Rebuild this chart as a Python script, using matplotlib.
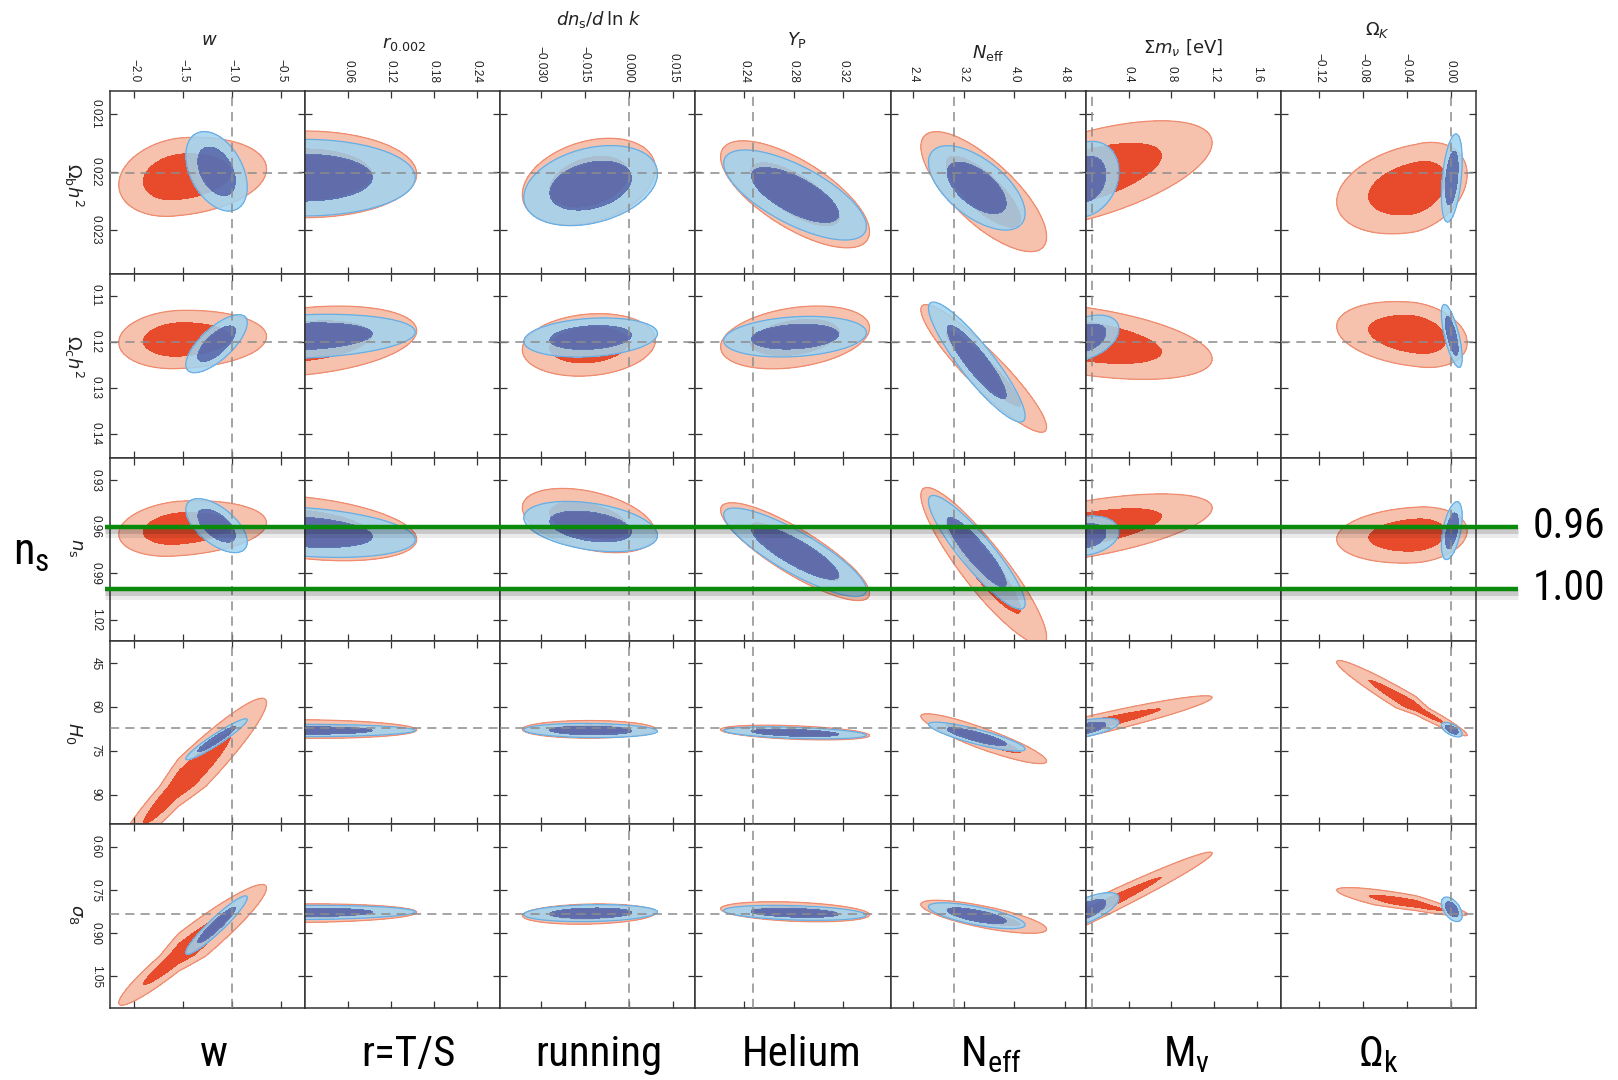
import numpy as np
import matplotlib
matplotlib.use('Agg')
import matplotlib.pyplot as plt
import matplotlib.patheffects as pe
from matplotlib import font_manager as fm
from matplotlib.lines import Line2D
from matplotlib.transforms import blended_transform_factory

W, H = 1618, 1080

# axis labels: extension parameters (columns) and base parameters (rows)
col_labels = [r'$w$', r'$r_{0.002}$', r'$dn_{\rm s}/d\,\ln\,k$', r'$Y_{\rm P}$',
              r'$N_{\rm eff}$', r'$\Sigma m_\nu$ [eV]', r'$\Omega_K$']
row_labels = [r'$\Omega_{\rm b}h^2$', r'$\Omega_{\rm c}h^2$', r'$n_{\rm s}$', r'$H_0$', r'$\sigma_8$']
bottom_names = ['w', 'r=T/S', 'running', 'Helium', r'$\mathregular{N_{eff}}$',
                r'$\mathregular{M_{ν}}$', r'$\mathregular{Ω_k}$']

x_lims = [(-2.25, -0.255), (0.0, 0.273), (-0.0437, 0.0226), (0.2007, 0.358),
          (2.04, 5.13), (0.0, 1.822), (-0.155, 0.0231)]
x_ticks = [[-2.0, -1.5, -1.0, -0.5], [0.06, 0.12, 0.18, 0.24], [-0.030, -0.015, 0.0, 0.015],
           [0.24, 0.28, 0.32], [2.4, 3.2, 4.0, 4.8], [0.4, 0.8, 1.2, 1.6], [-0.12, -0.08, -0.04, 0.0]]
x_fmt = ['{:.1f}', '{:.2f}', '{:.3f}', '{:.2f}', '{:.1f}', '{:.1f}', '{:.2f}']
x_fid = [-1.0, None, 0.0, 0.247, 3.046, 0.06, 0.0]

# y axes run downward (larger values at the bottom)
y_lims = [(0.02377, 0.02061), (0.1451, 0.1054), (1.0335, 0.9154), (100.0, 37.4), (1.158, 0.521)]
y_ticks = [[0.021, 0.022, 0.023], [0.11, 0.12, 0.13, 0.14], [0.93, 0.96, 0.99, 1.02],
           [45, 60, 75, 90], [0.60, 0.75, 0.90, 1.05]]
y_fmt = ['{:.3f}', '{:.2f}', '{:.2f}', '{:.0f}', '{:.2f}']
y_fid = [0.02203, 0.12, 0.96, 67.1, 0.833]

# 95% contour extents along each extension parameter (centre, min, max)
red_x_mid = [-1.55, 0.0, -0.0135, 0.281, 3.50, 0.0, -0.032]
red_x_min = [-2.16, -0.156, -0.0362, 0.221, 2.52, -1.18, -0.104]
red_x_max = [-0.65, 0.156, 0.0090, 0.341, 4.51, 1.18, 0.015]
blue_x_mid = [-1.16, 0.0, -0.013, 0.281, 3.40, 0.0, 0.001]
blue_x_min = [-1.475, -0.154, -0.0357, 0.2235, 2.64, -0.31, -0.0085]
blue_x_max = [-0.847, 0.154, 0.0097, 0.3385, 4.17, 0.31, 0.0105]

# 95% contour extents along each base parameter, one row per base parameter
red_y_mid = [
    [0.02209, 0.022047, 0.022172, 0.022391, 0.022345, 0.022072, 0.022284],
    [0.11952, 0.1199, 0.12069, 0.11907, 0.12579, 0.11991, 0.11844],
    [0.96109, 0.96071, 0.95595, 0.976, 0.9854, 0.96148, 0.96527],
    [87.0, 67.5, 67.6, 68.7, 70.8, 66.75, 60.3],
    [0.9786, 0.8302, 0.8333, 0.8253, 0.8427, 0.8333, 0.8008],
]
red_y_min = [
    [0.021409, 0.0213, 0.021425, 0.021469, 0.021311, 0.021124, 0.021496],
    [0.1132, 0.11229, 0.11393, 0.11227, 0.11197, 0.11167, 0.11131],
    [0.9432, 0.93958, 0.93527, 0.9445, 0.9347, 0.93881, 0.94719],
    [57.0, 64.33, 64.6, 66.2, 62.3, 56.15, 44.1],
    [0.7305, 0.7981, 0.7982, 0.7906, 0.7854, 0.6182, 0.7413],
]
red_y_max = [
    [0.022771, 0.022794, 0.022919, 0.023313, 0.023379, 0.02302, 0.023072],
    [0.12584, 0.12751, 0.12745, 0.12587, 0.13961, 0.12815, 0.12557],
    [0.97898, 0.98184, 0.97663, 1.0075, 1.0361, 0.98415, 0.98335],
    [109.0, 70.67, 70.6, 71.2, 79.3, 77.35, 69.8],
    [1.15, 0.8623, 0.8684, 0.86, 0.9, 1.0484, 0.8389],
]
red_rho = [
    [-0.2, 0.0, -0.3, 0.7, 0.75, -0.6, -0.3],
    [-0.1, -0.3, -0.15, -0.3, 0.92, 0.46, 0.25],
    [-0.2, 0.35, 0.4, 0.85, 0.9, -0.6, -0.15],
    [-0.95, 0.1, 0.0, 0.4, 0.9, -0.947, 0.97],
    [-0.95, -0.1, -0.15, 0.3, 0.75, -0.983, 0.85],
]
blue_y_mid = [
    [0.021995, 0.022104, 0.022241, 0.022403, 0.02228, 0.022133, 0.02211],
    [0.12043, 0.11885, 0.11909, 0.11891, 0.1244, 0.11924, 0.11874],
    [0.95923, 0.96334, 0.95981, 0.9764, 0.9764, 0.96578, 0.96245],
    [71.0, 68.0, 68.0, 68.8, 70.1, 67.3, 67.7],
    [0.8715, 0.8278, 0.8302, 0.829, 0.8392, 0.8212, 0.8167],
]
blue_y_min = [
    [0.02131, 0.021444, 0.021551, 0.021627, 0.021553, 0.021478, 0.021351],
    [0.11414, 0.11406, 0.11486, 0.11451, 0.1114, 0.11423, 0.11193],
    [0.94183, 0.94696, 0.94362, 0.9479, 0.9398, 0.953, 0.94382],
    [64.0, 65.88, 65.57, 66.75, 65.15, 63.77, 65.2],
    [0.77, 0.8031, 0.8007, 0.803, 0.7942, 0.7589, 0.774],
]
blue_y_max = [
    [0.02268, 0.022764, 0.022931, 0.023179, 0.023007, 0.022788, 0.022869],
    [0.12672, 0.12364, 0.12332, 0.12331, 0.1374, 0.12425, 0.12555],
    [0.97663, 0.97972, 0.976, 1.0049, 1.013, 0.97856, 0.98108],
    [78.0, 70.12, 70.43, 70.85, 75.05, 70.83, 70.2],
    [0.973, 0.8525, 0.8597, 0.855, 0.8842, 0.8835, 0.8594],
]
blue_rho = [
    [0.4, 0.0, -0.3, 0.7, 0.6, -0.2, -0.4],
    [-0.72, -0.2, -0.2, -0.2, 0.9, -0.4, 0.7],
    [0.6, 0.3, 0.35, 0.85, 0.9, -0.2, -0.5],
    [-0.95, 0.0, 0.1, 0.4, 0.85, -0.6, 0.6],
    [-0.94, -0.1, -0.15, 0.3, 0.7, -0.7, 0.5],
]

# ns values marked across the figure
ns_marks = [0.96, 1.00]
ns_mark_text = ['0.96', '1.00']

INNER = 0.61  # 68% contour relative to the 95% one

RED_DARK, RED_LIGHT, RED_EDGE = '#e84b2c', '#f6c2ae', '#ef8b6f'
BLUE_DARK, BLUE_LIGHT, BLUE_EDGE = '#5a70b2', '#9fd3f0', '#62a9e2'
FID = '#8c8c8c'
FRAME = '#333333'
GREEN = '#0a8a0a'

plt.rcParams['font.family'] = ['Liberation Sans', 'DejaVu Sans']
plt.rcParams['mathtext.fontset'] = 'dejavusans'


def pick_narrow_font():
    # a condensed sans face for the big slide labels, if one is installed
    fonts = fm.fontManager.ttflist
    for want in ['Liberation Sans Narrow', 'Arial Narrow', 'Roboto Condensed',
                 'Open Sans Condensed', 'Noto Sans Condensed']:
        for f in fonts:
            if f.name == want and f.style == 'normal' and f.weight in (400, 'normal', 'regular'):
                return fm.FontProperties(fname=f.fname), 1.0
    for fam in ['DejaVu Sans', 'Noto Sans', 'Roboto', 'Open Sans', 'Liberation Sans']:
        for f in fonts:
            if (f.name == fam and f.style == 'normal' and f.weight in (400, 'normal', 'regular')
                    and f.stretch in ('condensed', 'semi-condensed', 'extra-condensed')):
                return fm.FontProperties(fname=f.fname), 0.95
    return fm.FontProperties(family='DejaVu Sans'), 0.8


NARROW, NARROW_SCALE = pick_narrow_font()


def narrow(size):
    p = NARROW.copy()
    p.set_size(size * NARROW_SCALE)
    return p


def contour_level(X, Y, xm, x0, x1, ym, y0, y1, rho):
    # split-normal style distance: 1 on the 95% contour
    u = np.where(X < xm, (X - xm) / (xm - x0), (X - xm) / (x1 - xm))
    v = np.where(Y < ym, (Y - ym) / (ym - y0), (Y - ym) / (y1 - ym))
    return np.sqrt((u * u - 2 * rho * u * v + v * v) / (1 - rho * rho))


col_edges = np.linspace(110, 1476, 8)
row_edges = np.linspace(91, 1007.5, 6)

fig = plt.figure(figsize=(W / 100, H / 100), dpi=100)
axes = [[None] * 7 for _ in range(5)]

for i in range(5):
    for j in range(7):
        x0, x1 = col_edges[j], col_edges[j + 1]
        y0, y1 = row_edges[i], row_edges[i + 1]
        ax = fig.add_axes([x0 / W, 1 - y1 / H, (x1 - x0) / W, (y1 - y0) / H])
        axes[i][j] = ax

        xl, yl = x_lims[j], y_lims[i]
        dx, dy = (xl[1] - xl[0]) * 0.05, (yl[0] - yl[1]) * 0.05
        xs = np.linspace(xl[0] - dx, xl[1] + dx, 500)
        ys = np.linspace(yl[1] - dy, yl[0] + dy, 500)
        X, Y = np.meshgrid(xs, ys)

        red = contour_level(X, Y, red_x_mid[j], red_x_min[j], red_x_max[j],
                            red_y_mid[i][j], red_y_min[i][j], red_y_max[i][j], red_rho[i][j])
        blue = contour_level(X, Y, blue_x_mid[j], blue_x_min[j], blue_x_max[j],
                             blue_y_mid[i][j], blue_y_min[i][j], blue_y_max[i][j], blue_rho[i][j])

        ax.contourf(X, Y, red, levels=[-1, INNER, 1], colors=[RED_DARK, RED_LIGHT], zorder=1)
        ax.contour(X, Y, red, levels=[1], colors=RED_EDGE, linewidths=0.9, zorder=1.1)
        ax.contourf(X, Y, blue, levels=[INNER, 1], colors=[BLUE_LIGHT], alpha=0.85, zorder=2)
        ax.contourf(X, Y, blue, levels=[-1, INNER], colors=[BLUE_DARK], alpha=0.95, zorder=2)
        ax.contour(X, Y, blue, levels=[1], colors=BLUE_EDGE, linewidths=0.9, alpha=0.9, zorder=2.1)

        if x_fid[j] is not None:
            ax.axvline(x_fid[j], color=FID, lw=1.1, ls=(0, (6, 4)), zorder=3)
        ax.axhline(y_fid[i], color=FID, lw=1.1, ls=(0, (6, 4)), zorder=3)

        ax.set_xlim(*xl)
        ax.set_ylim(*yl)
        ax.set_xticks(x_ticks[j])
        ax.set_yticks(y_ticks[i])
        ax.set_xticklabels([x_fmt[j].format(t).replace('-', '\u2212') for t in x_ticks[j]])
        ax.set_yticklabels([y_fmt[i].format(t).replace('-', '\u2212') for t in y_ticks[i]])
        ax.tick_params(direction='in', length=5, width=0.9, color=FRAME,
                       top=True, right=True, bottom=True, left=True,
                       labeltop=(i == 0), labelbottom=False,
                       labelleft=(j == 0), labelright=False,
                       labelsize=8.5, labelcolor='#222222', pad=6)
        ax.tick_params(axis='x', labelrotation=-90)
        ax.tick_params(axis='y', labelrotation=-90)
        for lab in ax.get_yticklabels():
            lab.set_va('center')
        for s in ax.spines.values():
            s.set_color(FRAME)
            s.set_linewidth(1.1)

# parameter names
col_label_pos = [(209, 40), (404, 44), (599, 20), (797, 40), (988, 53), (1183, 47), (1378, 30)]
for lab, (px, py) in zip(col_labels, col_label_pos):
    fig.text(px / W, 1 - py / H, lab, ha='center', va='center', fontsize=13,
             family='DejaVu Sans', color='#222222')

row_label_pos = [(74, 185), (74, 356), (76, 548), (74, 733), (76, 914)]
for lab, (px, py) in zip(row_labels, row_label_pos):
    fig.text(px / W, 1 - py / H, lab, ha='center', va='center', fontsize=13,
             rotation=-90, family='DejaVu Sans', color='#222222')

bottom_x = [214, 408, 599, 802, 991, 1187, 1378]
for name, px in zip(bottom_names, bottom_x):
    fig.text(px / W, 1 - 1066 / H, name, ha='center', va='baseline',
             fontproperties=narrow(31), color='black')

fig.text(31 / W, 1 - 565 / H, r'$\mathregular{n_s}$', ha='center', va='baseline',
         fontproperties=narrow(32), color='black')

# horizontal ns marks running through the n_s row
ns_ax = axes[2][0]
trans = blended_transform_factory(fig.transFigure, ns_ax.transData)
shadow = [pe.SimpleLineShadow(offset=(0, -4), shadow_color='black', alpha=0.08, linewidth=8),
          pe.SimpleLineShadow(offset=(0, -2), shadow_color='black', alpha=0.14, linewidth=5),
          pe.Normal()]
for val, txt in zip(ns_marks, ns_mark_text):
    line = Line2D([105 / W, 1518 / W], [val, val], transform=trans, color=GREEN,
                  lw=3.2, solid_capstyle='butt', zorder=10, path_effects=shadow)
    fig.add_artist(line)
    fig.text(1533 / W, val, txt, transform=trans, ha='left', va='center',
             fontproperties=narrow(30), color='black')

fig.savefig('out.png', dpi=100, facecolor='white')
